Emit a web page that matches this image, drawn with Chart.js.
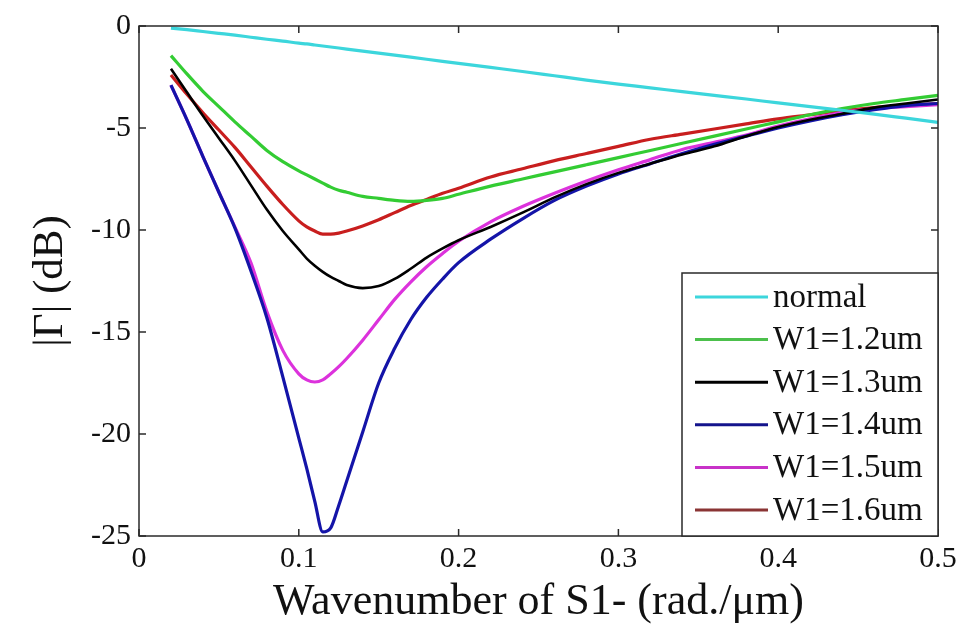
<!DOCTYPE html>
<html>
<head>
<meta charset="utf-8">
<script src="https://cdn.jsdelivr.net/npm/chart.js@4.4.1/dist/chart.umd.min.js"></script>
<style>
  html, body { margin: 0; padding: 0; background: #ffffff; }
  #wrap { width: 966px; height: 629px; }
</style>
</head>
<body>
<div id="wrap"><canvas id="c" width="966" height="629"></canvas></div>
<script>
// Wavenumber samples (rad./um)
const wavenumber = [0.02, 0.03, 0.04, 0.05, 0.06, 0.07, 0.08, 0.09, 0.10, 0.105, 0.11, 0.115, 0.12, 0.125,
  0.13, 0.14, 0.15, 0.16, 0.17, 0.18, 0.19, 0.20, 0.22, 0.24, 0.26, 0.28, 0.30, 0.32, 0.34, 0.36,
  0.38, 0.40, 0.42, 0.44, 0.46, 0.48, 0.50];

// |Gamma| in dB for each structure
const normal = [-0.10, -0.18, -0.27, -0.36, -0.45, -0.55, -0.65, -0.74, -0.84, -0.88, -0.93, -0.98, -1.03, -1.08,
  -1.13, -1.23, -1.33, -1.43, -1.53, -1.63, -1.73, -1.83, -2.03, -2.23, -2.44, -2.65, -2.85, -3.03, -3.22, -3.40,
  -3.58, -3.77, -3.95, -4.13, -4.32, -4.52, -4.72];
const w12 = [-1.45, -2.35, -3.2, -3.95, -4.7, -5.4, -6.1, -6.65, -7.1, -7.3, -7.5, -7.7, -7.9, -8.05,
  -8.15, -8.35, -8.45, -8.55, -8.6, -8.55, -8.45, -8.25, -7.85, -7.5, -7.15, -6.8, -6.45, -6.1, -5.75, -5.4,
  -5.05, -4.7, -4.35, -4.05, -3.8, -3.6, -3.4];
const w13 = [-2.1, -3.25, -4.4, -5.5, -6.6, -7.8, -9.0, -10.05, -10.95, -11.4, -11.75, -12.05, -12.3, -12.5,
  -12.7, -12.85, -12.75, -12.4, -11.9, -11.35, -10.9, -10.5, -9.85, -9.15, -8.4, -7.75, -7.2, -6.75, -6.3, -5.9,
  -5.4, -4.95, -4.6, -4.3, -4.0, -3.8, -3.6];
const w14 = [-2.9, -4.6, -6.4, -8.15, -9.9, -12.0, -14.3, -17.2, -20.2, -21.7, -23.3, -24.8, -24.6, -23.5,
  -22.3, -19.9, -17.5, -15.8, -14.4, -13.3, -12.4, -11.6, -10.45, -9.45, -8.55, -7.85, -7.25, -6.75, -6.25, -5.8,
  -5.4, -5.0, -4.65, -4.35, -4.1, -3.9, -3.8];
const w15 = [-2.9, -4.6, -6.4, -8.15, -9.85, -11.6, -14.0, -15.9, -17.05, -17.35, -17.45, -17.35, -17.05, -16.7,
  -16.3, -15.4, -14.4, -13.4, -12.55, -11.8, -11.15, -10.55, -9.6, -8.85, -8.2, -7.6, -7.05, -6.55, -6.05, -5.7,
  -5.35, -4.9, -4.55, -4.25, -4.05, -3.95, -3.85];
const w16 = [-2.4, -3.35, -4.25, -5.1, -5.95, -6.9, -7.85, -8.75, -9.55, -9.85, -10.05, -10.2, -10.2, -10.15,
  -10.05, -9.8, -9.5, -9.15, -8.8, -8.5, -8.2, -7.95, -7.4, -7.0, -6.6, -6.25, -5.9, -5.55, -5.3, -5.05,
  -4.8, -4.55, -4.35, -4.15, -4.0, -3.9, -3.8];

const seriesLabels = ['normal', 'W1=1.2um', 'W1=1.3um', 'W1=1.4um', 'W1=1.5um', 'W1=1.6um'];
const seriesValues = [normal, w12, w13, w14, w15, w16];
const seriesColors = ['#3cd6dc', '#33cc33', '#000000', '#1414a8', '#dc32dc', '#c81e1e'];
const legendColors = ['#3cd6dc', '#4cc04c', '#000000', '#14148c', '#c832c8', '#8a3434'];
const seriesWidths = [3.2, 3.2, 2.6, 3.2, 3.2, 3.2];

// Axis ticks
const xTicks = [0, 0.1, 0.2, 0.3, 0.4, 0.5];
const xTickLabels = ['0', '0.1', '0.2', '0.3', '0.4', '0.5'];
const yTicks = [-25, -20, -15, -10, -5, 0];
const yTickLabels = ['-25', '-20', '-15', '-10', '-5', '0'];

const serif = "'Liberation Serif', 'Times New Roman', serif";
const axisColor = '#2a2a2a';

const datasets = seriesLabels.map((label, i) => ({
  label,
  data: wavenumber.map((x, j) => ({ x, y: seriesValues[i][j] })),
  borderColor: seriesColors[i],
  backgroundColor: seriesColors[i],
  borderWidth: seriesWidths[i],
  pointRadius: 0,
  cubicInterpolationMode: 'monotone',
  fill: false
}));

// Frame around the plot area with inward tick marks on all four sides
const framePlugin = {
  id: 'frame',
  afterDraw(chart) {
    const { ctx, chartArea: a, scales } = chart;
    const tick = 7;
    ctx.save();
    ctx.strokeStyle = axisColor;
    ctx.lineWidth = 1.5;
    ctx.strokeRect(a.left, a.top, a.right - a.left, a.bottom - a.top);
    ctx.beginPath();
    xTicks.forEach(v => {
      const px = scales.x.getPixelForValue(v);
      ctx.moveTo(px, a.bottom); ctx.lineTo(px, a.bottom - tick);
      ctx.moveTo(px, a.top); ctx.lineTo(px, a.top + tick);
    });
    yTicks.forEach(v => {
      const py = scales.y.getPixelForValue(v);
      ctx.moveTo(a.left, py); ctx.lineTo(a.left + tick, py);
      ctx.moveTo(a.right, py); ctx.lineTo(a.right - tick, py);
    });
    ctx.stroke();
    ctx.restore();
  }
};

// Boxed legend in the lower-right corner of the plot area
const boxLegendPlugin = {
  id: 'boxLegend',
  afterDraw(chart) {
    const { ctx, chartArea: a } = chart;
    const w = 256, h = 263;
    const left = a.right - w, top = a.bottom - h;
    ctx.save();
    ctx.fillStyle = '#ffffff';
    ctx.fillRect(left, top, w, h);
    ctx.strokeStyle = axisColor;
    ctx.lineWidth = 1.5;
    ctx.strokeRect(left, top, w, h);
    ctx.font = '33px ' + serif;
    ctx.textBaseline = 'middle';
    ctx.textAlign = 'left';
    chart.data.datasets.forEach((ds, i) => {
      const y = top + 24 + i * 42.6;
      ctx.strokeStyle = legendColors[i];
      ctx.lineWidth = 3;
      ctx.beginPath();
      ctx.moveTo(left + 13, y);
      ctx.lineTo(left + 86, y);
      ctx.stroke();
      ctx.fillStyle = '#111111';
      ctx.fillText(ds.label, left + 91, y + 1);
    });
    ctx.restore();
  }
};

new Chart(document.getElementById('c'), {
  type: 'line',
  data: { datasets },
  options: {
    responsive: false,
    devicePixelRatio: 1,
    animation: false,
    layout: { padding: { top: 20, right: 28, left: 0, bottom: 0 } },
    plugins: {
      legend: { display: false },
      tooltip: { enabled: false }
    },
    scales: {
      x: {
        type: 'linear',
        min: 0,
        max: 0.5,
        afterBuildTicks: s => { s.ticks = xTicks.map(v => ({ value: v })); },
        afterFit: s => { s.height = 93; },
        grid: { display: false, drawTicks: false, tickLength: 0 },
        border: { display: false },
        ticks: {
          padding: 5,
          maxRotation: 0,
          autoSkip: false,
          color: '#111111',
          font: { family: serif, size: 30 },
          callback: v => xTickLabels[xTicks.findIndex(t => Math.abs(t - v) < 1e-9)]
        },
        title: {
          display: true,
          text: 'Wavenumber of S1- (rad./\u03bcm)',
          color: '#111111',
          font: { family: serif, size: 44 },
          padding: { top: 0, bottom: 0 }
        }
      },
      y: {
        type: 'linear',
        min: -25,
        max: 0,
        afterBuildTicks: s => { s.ticks = yTicks.map(v => ({ value: v })); },
        afterFit: s => { s.width = 139; },
        grid: { display: false, drawTicks: false, tickLength: 0 },
        border: { display: false },
        ticks: {
          padding: 8,
          autoSkip: false,
          color: '#111111',
          font: { family: serif, size: 30 },
          callback: v => yTickLabels[yTicks.findIndex(t => Math.abs(t - v) < 1e-9)]
        },
        title: {
          display: true,
          text: '|\u0393| (dB)',
          color: '#111111',
          font: { family: serif, size: 43 },
          padding: { top: 25, bottom: 0 }
        }
      }
    }
  },
  plugins: [framePlugin, boxLegendPlugin]
});
</script>
</body>
</html>
